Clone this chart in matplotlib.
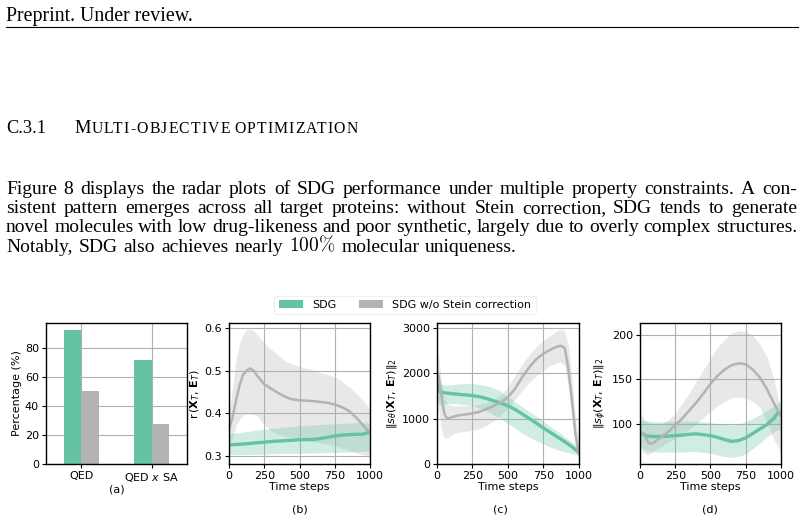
import matplotlib
matplotlib.use("Agg")
import matplotlib.pyplot as plt
from matplotlib.lines import Line2D
from matplotlib.patches import Patch

# ---------------- data ----------------
GREEN = '#66c2a5'
GRAY = '#b3b3b3'

legend_labels = ['SDG', 'SDG w/o Stein correction']

# (a) bar chart
a_categories = ['QED', r'QED $x$ SA']
a_sdg = [92.2, 71.5]
a_nostein = [50.1, 27.4]

# (b) r(X_T, E_T)
b_ng_t = [0, 25, 50, 75, 100, 125, 150, 175, 200, 250, 300, 350, 400, 450, 500, 550, 600, 650, 700, 750, 800, 850, 900, 950, 975, 1000]
b_ng_mean = [0.362, 0.39, 0.43, 0.465, 0.49, 0.50, 0.505, 0.50, 0.488, 0.468, 0.457, 0.447, 0.438, 0.432, 0.43, 0.429, 0.428, 0.426, 0.424, 0.42, 0.414, 0.405, 0.39, 0.372, 0.362, 0.355]
b_ng_hi = [0.40, 0.46, 0.525, 0.565, 0.585, 0.596, 0.597, 0.594, 0.585, 0.565, 0.55, 0.535, 0.522, 0.515, 0.51, 0.505, 0.5, 0.495, 0.49, 0.485, 0.475, 0.462, 0.448, 0.43, 0.42, 0.41]
b_ng_lo = [0.325, 0.34, 0.37, 0.385, 0.395, 0.398, 0.398, 0.397, 0.393, 0.372, 0.358, 0.35, 0.345, 0.342, 0.338, 0.335, 0.332, 0.33, 0.327, 0.323, 0.318, 0.312, 0.306, 0.302, 0.30, 0.30]
b_sdg_t = [0, 100, 200, 300, 400, 500, 600, 650, 700, 750, 800, 850, 900, 950, 1000]
b_sdg_mean = [0.325, 0.327, 0.33, 0.333, 0.335, 0.337, 0.338, 0.34, 0.343, 0.346, 0.348, 0.349, 0.35, 0.35, 0.356]
b_sdg_hi = [0.352, 0.355, 0.36, 0.364, 0.367, 0.37, 0.372, 0.373, 0.374, 0.375, 0.376, 0.376, 0.377, 0.377, 0.377]
b_sdg_lo = [0.302, 0.302, 0.303, 0.304, 0.305, 0.305, 0.306, 0.306, 0.307, 0.307, 0.308, 0.308, 0.309, 0.31, 0.31]

# (c) ||s_theta||_2
c_ng_t = [0, 10, 25, 40, 55, 70, 85, 100, 150, 200, 250, 300, 350, 400, 450, 500, 550, 600, 650, 700, 750, 800, 850, 875, 900, 925, 950, 975, 1000]
c_ng_mean = [2050, 1950, 1650, 1300, 1080, 1010, 1000, 1030, 1070, 1090, 1115, 1150, 1210, 1280, 1360, 1470, 1660, 1910, 2130, 2310, 2430, 2520, 2590, 2600, 2550, 2100, 1400, 650, 200]
c_ng_hi = [2550, 2400, 2000, 1650, 1420, 1330, 1300, 1290, 1280, 1280, 1290, 1310, 1350, 1420, 1520, 1700, 1950, 2200, 2400, 2580, 2720, 2840, 2940, 2960, 2930, 2600, 1900, 1000, 450]
c_ng_lo = [1500, 1250, 900, 650, 580, 570, 600, 640, 700, 720, 740, 780, 850, 950, 1080, 1230, 1420, 1620, 1800, 1950, 2070, 2170, 2230, 2240, 2170, 1700, 1100, 450, 120]
c_sdg_t = [0, 10, 25, 50, 100, 150, 200, 250, 300, 350, 400, 450, 500, 550, 600, 650, 700, 750, 800, 850, 900, 950, 1000]
c_sdg_mean = [1800, 1620, 1590, 1570, 1550, 1535, 1520, 1505, 1480, 1440, 1390, 1340, 1280, 1200, 1100, 1000, 900, 790, 690, 590, 490, 380, 250]
c_sdg_hi = [1950, 1800, 1760, 1740, 1740, 1760, 1770, 1770, 1750, 1720, 1680, 1600, 1480, 1370, 1260, 1150, 1050, 940, 820, 720, 600, 480, 380]
c_sdg_lo = [1400, 1320, 1310, 1320, 1330, 1320, 1300, 1280, 1230, 1160, 1080, 990, 890, 790, 680, 590, 510, 440, 370, 310, 270, 230, 190]

# (d) ||s_phi||_2
d_ng_t = [0, 20, 40, 60, 80, 100, 150, 200, 250, 300, 350, 400, 450, 500, 550, 600, 650, 700, 750, 800, 850, 900, 950, 1000]
d_ng_mean = [91, 89, 84, 78.5, 77.5, 79, 85, 91, 98, 106, 115, 124, 134, 145, 154, 161, 166, 168, 167, 161, 152, 139, 123, 108]
d_ng_hi = [112, 108, 103, 100, 98, 98, 100, 104, 112, 123, 135, 148, 161, 174, 186, 195, 202, 205, 204, 199, 190, 175, 150, 112]
d_ng_lo = [72, 68, 66, 65, 67, 70, 74, 79, 84, 88, 94, 100, 107, 114, 120, 125, 129, 130, 129, 125, 118, 101, 82, 68]
d_sdg_t = [0, 25, 50, 100, 150, 200, 250, 300, 350, 400, 450, 500, 550, 600, 650, 700, 750, 800, 850, 900, 950, 980, 1000]
d_sdg_mean = [90, 88, 86, 85.5, 85.5, 86, 86.5, 87, 88, 88.5, 87.5, 86.5, 84.5, 82, 80, 81, 84, 89, 94, 99, 106, 113, 111]
d_sdg_hi = [104, 104, 103, 102, 102, 102.5, 103, 103, 103, 102.5, 102, 101, 100, 99, 98.5, 99.5, 102, 106, 110, 115, 120, 124, 126]
d_sdg_lo = [74, 71, 69, 68, 68, 68, 68, 68, 68.5, 68.5, 67.5, 66.5, 64.5, 63, 62, 63, 66, 72, 78, 85, 91, 93, 94]

time_ticks = [0, 250, 500, 750, 1000]

# ---------------- page text ----------------
header_text = "Preprint. Under review."
section_num = "C.3.1"
section_first = "M"
section_rest = "ULTI-OBJECTIVE OPTIMIZATION"
para_lines = [
    "Figure 8 displays the radar plots of SDG performance under multiple property constraints. A con-",
    "sistent pattern emerges across all target proteins: without Stein correction, SDG tends to generate",
    "novel molecules with low drug-likeness and poor synthetic, largely due to overly complex structures.",
    r"Notably, SDG also achieves nearly $100\%$ molecular uniqueness.",
]

# ---------------- figure ----------------
W, H = 804, 523
plt.rcParams['font.family'] = 'DejaVu Sans'
plt.rcParams['font.size'] = 8
fig = plt.figure(figsize=(W / 100, H / 100), dpi=100)
renderer = fig.canvas.get_renderer()
SERIF = 'Liberation Serif'


def fx(x):
    return x / W


def fy(y):
    return 1 - y / H


def tw(s, size, **kw):
    t = fig.text(0, 0, s, family=SERIF, fontsize=size, **kw)
    w = t.get_window_extent(renderer).width
    t.remove()
    return w


def mk(s, size):
    kw = dict(family=SERIF, fontsize=size, va='baseline')
    if s.startswith('$'):
        kw['math_fontfamily'] = 'cm'
    return kw


# header
fig.text(fx(6), fy(20.7), header_text, family=SERIF, fontsize=14.3, va='baseline')
fig.add_artist(Line2D([fx(6), fx(798)], [fy(27), fy(27)], transform=fig.transFigure,
                      color='black', lw=0.8))

# body font size: largest size such that the tightest line fits with shrunk spaces
ref = 10.0
best = 20
sp_ref = tw("a a", ref) - tw("aa", ref)
for line in para_lines[:3]:
    words = line.split(' ')
    wsum = sum(tw(w, ref, **({'math_fontfamily': 'cm'} if w.startswith('$') else {})) for w in words)
    k = 791 / (wsum + 0.6 * sp_ref * (len(words) - 1))
    best = min(best, ref * k)
BODY = min(best, 14.0)

# section heading in small caps
HEAD = 13.2
HB = 133
fig.text(fx(6), fy(HB), section_num, family=SERIF, fontsize=HEAD, va='baseline')
t_m = fig.text(fx(74), fy(HB), section_first, family=SERIF, fontsize=HEAD, va='baseline')
m_end = t_m.get_window_extent(renderer).x1
SC = HEAD * 0.86
sc_words = section_rest.split(' ')
sc_space = (tw("A A", SC) - tw("AA", SC))
nat = sum(tw(w, SC) for w in sc_words) + sc_space * (len(sc_words) - 1)
nchars = sum(len(w) for w in sc_words) - 1 + (len(sc_words) - 1)
track = max((358 - m_end - 0.8 - nat) / max(nchars, 1), 0)
x = m_end + 0.8
for wi, w in enumerate(sc_words):
    for ci, ch in enumerate(w):
        pre = (tw(w[:ci + 1], SC) - tw(ch, SC)) if ci > 0 else 0.0
        fig.text(fx(x + pre + ci * track), fy(HB), ch, family=SERIF, fontsize=SC, va='baseline')
    x += tw(w, SC) + (len(w) - 1) * track + sc_space * 1.3 + track


def place_words(words, y, x0, x1, size):
    texts = [fig.text(0, fy(y), w, **mk(w, size)) for w in words]
    widths = [t.get_window_extent(renderer).width for t in texts]
    gap = (x1 - x0 - sum(widths)) / (len(words) - 1)
    xx = x0
    for t, w in zip(texts, widths):
        t.set_x(fx(xx))
        xx += w + gap


base = [194.5, 213.5, 232.5, 251.5]
ends = [797, 797, 797, 517]
for line, yb, xe in zip(para_lines, base, ends):
    place_words(line.split(' '), yb, 6, xe, BODY)

# ---------------- charts ----------------
def add_axes_px(l, t, r, b):
    return fig.add_axes([l / W, 1 - b / H, (r - l) / W, (b - t) / H])


def style(ax):
    for s in ax.spines.values():
        s.set_color('black')
        s.set_linewidth(1.0)
    ax.grid(True, color='#b0b0b0', lw=0.8)
    ax.set_axisbelow(True)
    ax.tick_params(length=3, width=0.8, labelsize=8, pad=2)


# (a)
axa = add_axes_px(46, 323, 187, 464)
xs = list(range(len(a_categories)))
bw = 0.25
axa.bar([v - bw / 2 for v in xs], a_sdg, width=bw, color=GREEN, zorder=2)
axa.bar([v + bw / 2 for v in xs], a_nostein, width=bw, color=GRAY, zorder=2)
axa.set_xticks(xs)
axa.set_xticklabels(a_categories)
axa.set_xlim(-0.5, 1.5)
axa.set_ylim(0, 97)
axa.set_yticks([0, 20, 40, 60, 80])
axa.set_ylabel('Percentage (%)', fontsize=8, labelpad=2)
style(axa)


def panel(rect, ng, sdg, ylim, yticks, ylabel):
    ax = add_axes_px(*rect)
    t1, m1, lo1, hi1 = sdg
    t2, m2, lo2, hi2 = ng
    ax.fill_between(t2, lo2, hi2, color=GRAY, alpha=0.3, lw=0)
    ax.fill_between(t1, lo1, hi1, color=GREEN, alpha=0.3, lw=0)
    ax.plot(t1, m1, color=GREEN, lw=2.4, solid_capstyle='butt')
    ax.plot(t2, m2, color=GRAY, lw=1.8, solid_capstyle='butt')
    ax.set_xlim(0, 1000)
    ax.set_ylim(*ylim)
    ax.set_xticks(time_ticks)
    ax.set_yticks(yticks)
    ax.set_xlabel('Time steps', fontsize=8, labelpad=1)
    ax.set_ylabel(ylabel, fontsize=8, labelpad=2)
    style(ax)
    return ax


panel((229, 323, 370, 464), (b_ng_t, b_ng_mean, b_ng_lo, b_ng_hi),
      (b_sdg_t, b_sdg_mean, b_sdg_lo, b_sdg_hi), (0.28, 0.612), [0.3, 0.4, 0.5, 0.6],
      r'r$\,(\mathbf{X}_T,\,\mathbf{E}_T)$')
panel((437, 323, 579, 464), (c_ng_t, c_ng_mean, c_ng_lo, c_ng_hi),
      (c_sdg_t, c_sdg_mean, c_sdg_lo, c_sdg_hi), (0, 3104), [0, 1000, 2000, 3000],
      r'$\|s_\theta(\mathbf{X}_T,\,\mathbf{E}_T)\|_2$')
panel((640, 323, 781, 464), (d_ng_t, d_ng_mean, d_ng_lo, d_ng_hi),
      (d_sdg_t, d_sdg_mean, d_sdg_lo, d_sdg_hi), (54.5, 213.5), [100, 150, 200],
      r'$\|s_\phi(\mathbf{X}_T,\,\mathbf{E}_T)\|_2$')

for lab, xx, yy in [('(a)', 116.5, 490), ('(b)', 300, 510), ('(c)', 500, 510), ('(d)', 710, 510)]:
    fig.text(fx(xx), fy(yy), lab, ha='center', va='center', fontsize=8)

handles = [Patch(facecolor=GREEN), Patch(facecolor=GRAY)]
fig.legend(handles, legend_labels, ncol=2, loc='center', bbox_to_anchor=(fx(405), fy(305)),
           fontsize=8, frameon=True, edgecolor='#eeeeee', handlelength=2.2)

fig.savefig('out.png', dpi=100)
